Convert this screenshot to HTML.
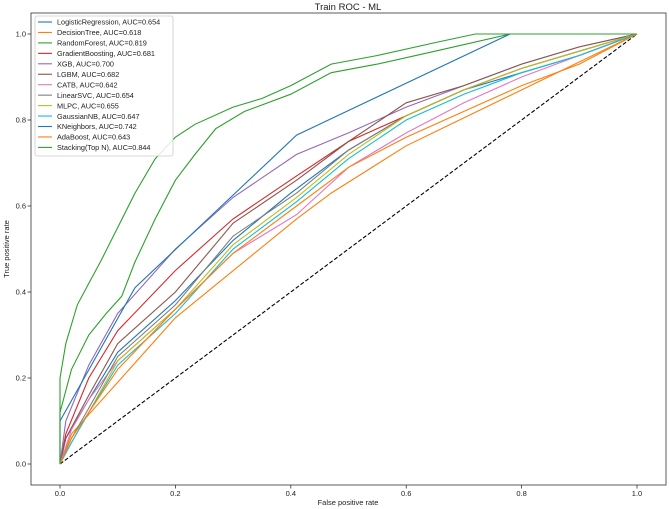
<!DOCTYPE html>
<html><head><meta charset="utf-8">
<style>
html,body{margin:0;padding:0;background:#fff;}
svg{display:block;font-family:"Liberation Sans","DejaVu Sans",sans-serif;}
</style></head>
<body>
<svg id="chart" width="669" height="509" viewBox="0 0 669 509" xmlns="http://www.w3.org/2000/svg">
<text x="348" y="10" font-size="9.5" text-anchor="middle" fill="#222">Train ROC - ML</text>
<rect x="31" y="13" width="635" height="472" fill="none" stroke="#333" stroke-width="0.8"/>
<g id="ticks"></g>
<g id="series"></g>
<text x="348" y="505" font-size="7.5" text-anchor="middle" fill="#222">False positive rate</text>
<text transform="translate(9,249) rotate(-90)" font-size="7.5" text-anchor="middle" fill="#222">True positive rate</text>
<g id="legend"></g>
</svg>
<script>
const names = ["LogisticRegression, AUC=0.654","DecisionTree, AUC=0.618","RandomForest, AUC=0.819","GradientBoosting, AUC=0.681","XGB, AUC=0.700","LGBM, AUC=0.682","CATB, AUC=0.642","LinearSVC, AUC=0.654","MLPC, AUC=0.655","GaussianNB, AUC=0.647","KNeighbors, AUC=0.742","AdaBoost, AUC=0.643","Stacking(Top N), AUC=0.844"];
const seriesKeys = ["logistic-regression","decision-tree","random-forest","gradient-boosting","xgb","lgbm","catb","linear-svc","mlpc","gaussian-nb","kneighbors","adaboost","stacking"];
const colors = ["#1f77b4","#ff7f0e","#2ca02c","#d62728","#9467bd","#8c564b","#e377c2","#7f7f7f","#bcbd22","#17becf","#1f77b4","#ff7f0e","#2ca02c"];
const xTicks = [0,0.2,0.4,0.6,0.8,1.0];
const yTicks = [0,0.2,0.4,0.6,0.8,1.0];
const tickLabels = ["0.0","0.2","0.4","0.6","0.8","1.0"];
const curveLogReg = [[0,0],[0.01,0.06],[0.05,0.15],[0.1,0.26],[0.2,0.38],[0.3,0.52],[0.4,0.63],[0.5,0.73],[0.6,0.81],[0.7,0.87],[0.8,0.91],[0.9,0.95],[1,1]];
const curveDecisionTree = [[0,0],[0.02,0.07],[0.2,0.34],[0.41,0.57],[0.47,0.63],[0.6,0.74],[1,1]];
const curveRandomForest = [[0,0],[0,0.12],[0.02,0.22],[0.05,0.3],[0.08,0.35],[0.107,0.39],[0.13,0.47],[0.165,0.57],[0.2,0.66],[0.234,0.72],[0.27,0.78],[0.32,0.82],[0.4,0.86],[0.47,0.91],[0.55,0.93],[0.65,0.96],[0.78,1],[1,1]];
const curveGradBoost = [[0,0],[0.01,0.07],[0.05,0.2],[0.1,0.31],[0.2,0.45],[0.3,0.57],[0.41,0.67],[0.5,0.75],[0.6,0.81],[0.7,0.87],[0.8,0.92],[0.9,0.96],[1,1]];
const curveXGB = [[0,0],[0.01,0.1],[0.05,0.23],[0.1,0.35],[0.2,0.5],[0.3,0.62],[0.41,0.72],[0.5,0.77],[0.6,0.83],[0.7,0.88],[0.8,0.93],[0.9,0.97],[1,1]];
const curveLGBM = [[0,0],[0.01,0.06],[0.05,0.16],[0.1,0.28],[0.2,0.4],[0.3,0.56],[0.41,0.66],[0.5,0.75],[0.6,0.84],[0.7,0.88],[0.8,0.93],[0.9,0.97],[1,1]];
const curveCATB = [[0,0],[0.02,0.08],[0.05,0.15],[0.1,0.24],[0.2,0.36],[0.3,0.49],[0.41,0.58],[0.5,0.69],[0.6,0.77],[0.7,0.84],[0.8,0.9],[0.9,0.95],[1,1]];
const curveLinearSVC = [[0,0],[0.02,0.06],[0.05,0.13],[0.1,0.25],[0.2,0.37],[0.3,0.53],[0.41,0.63],[0.5,0.73],[0.6,0.81],[0.7,0.87],[0.8,0.92],[0.9,0.96],[1,1]];
const curveMLPC = [[0,0],[0.02,0.05],[0.05,0.12],[0.1,0.24],[0.2,0.36],[0.3,0.51],[0.41,0.62],[0.5,0.72],[0.6,0.81],[0.7,0.87],[0.8,0.92],[0.9,0.96],[1,1]];
const curveGaussianNB = [[0,0],[0.02,0.05],[0.05,0.12],[0.1,0.23],[0.2,0.35],[0.3,0.5],[0.41,0.61],[0.5,0.71],[0.6,0.8],[0.7,0.86],[0.8,0.91],[0.9,0.95],[1,1]];
const curveKNeighbors = [[0,0],[0,0.1],[0.13,0.41],[0.41,0.765],[0.78,1],[1,1]];
const curveAdaBoost = [[0,0],[0.02,0.06],[0.1,0.22],[0.2,0.36],[0.3,0.49],[0.41,0.6],[0.5,0.69],[0.6,0.76],[0.7,0.82],[0.8,0.88],[0.9,0.93],[1,1]];
const curveStacking = [[0,0],[0,0.2],[0.01,0.28],[0.03,0.37],[0.05,0.42],[0.07,0.47],[0.1,0.55],[0.13,0.63],[0.165,0.71],[0.2,0.76],[0.234,0.79],[0.3,0.83],[0.35,0.85],[0.4,0.88],[0.47,0.93],[0.55,0.95],[0.65,0.98],[0.72,1],[1,1]];
const curves = [curveLogReg,curveDecisionTree,curveRandomForest,curveGradBoost,curveXGB,curveLGBM,curveCATB,curveLinearSVC,curveMLPC,curveGaussianNB,curveKNeighbors,curveAdaBoost,curveStacking];
const NS = "http://www.w3.org/2000/svg";
function xs(v){return 60 + v*577;}
function ys(v){return 464 - v*430;}
function mk(tag, attrs){const e=document.createElementNS(NS,tag);for(const k in attrs)e.setAttribute(k,attrs[k]);return e;}
const tg = document.getElementById("ticks");
xTicks.forEach((v,i)=>{
  const t = mk("line",{x1:xs(v),x2:xs(v),y1:485,y2:488.5,stroke:"#333","stroke-width":0.8});
  
  
  tg.appendChild(t);
  const l = mk("text",{x:xs(v),y:496,"font-size":7.5,"text-anchor":"middle",fill:"#222"});
  
  
  l.textContent = tickLabels[i]; tg.appendChild(l);
});
yTicks.forEach((v,i)=>{
  const t = mk("line",{x1:27.5,x2:31,y1:ys(v),y2:ys(v),stroke:"#333","stroke-width":0.8});
  
  
  tg.appendChild(t);
  const l = mk("text",{x:26,y:ys(v)+2.7,"font-size":7.5,"text-anchor":"end",fill:"#222"});
  
  
  l.textContent = tickLabels[i]; tg.appendChild(l);
});
const sg = document.getElementById("series");
const diag = mk("line",{x1:xs(0),y1:ys(0),x2:xs(1),y2:ys(1),stroke:"#000","stroke-width":1.1,"stroke-dasharray":"4,2"});


sg.appendChild(diag);
curves.forEach((c,i)=>{
  const p = mk("polyline",{points:c.map(q=>xs(q[0]).toFixed(1)+","+ys(q[1]).toFixed(1)).join(" "),fill:"none",stroke:colors[i],"stroke-width":1.1});
  
  
  sg.appendChild(p);
});
const lg = document.getElementById("legend");
const box = mk("rect",{x:35,y:16,width:138,height:140,fill:"#fff","fill-opacity":0.85,stroke:"#ccc","stroke-width":0.8,rx:2});


lg.appendChild(box);
names.forEach((n,i)=>{
  const y = 22 + i*10.45;
  const ln = mk("line",{x1:38,x2:52,y1:y,y2:y,stroke:colors[i],"stroke-width":1.1});
  
  
  lg.appendChild(ln);
  const t = mk("text",{x:57,y:y+2.7,"font-size":7.3,fill:"#222"});
  
  
  t.textContent = n; lg.appendChild(t);
});
</script>
</body></html>
